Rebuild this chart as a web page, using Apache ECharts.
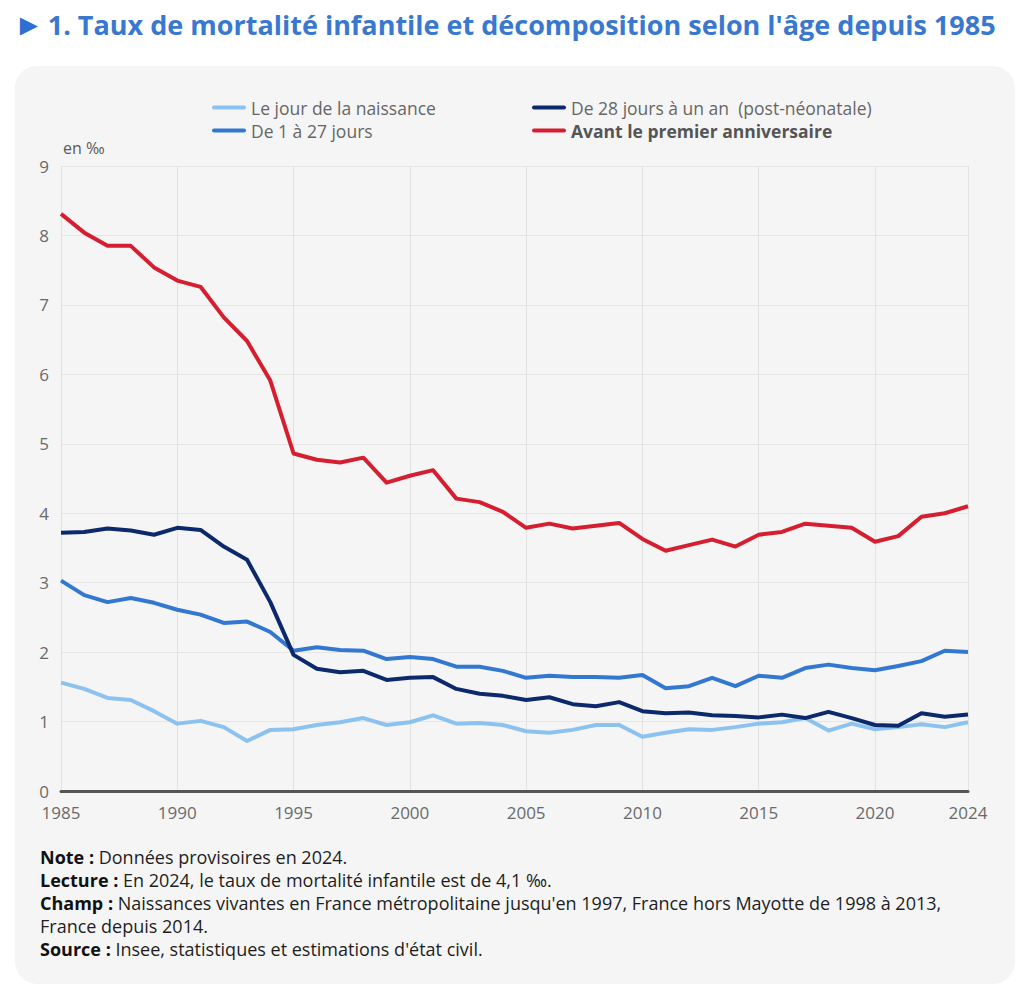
<!DOCTYPE html>
<html>
<head>
<meta charset="utf-8">
<script src="https://cdn.jsdelivr.net/npm/echarts@6/dist/echarts.min.js"></script>
<style>
  html, body { margin: 0; padding: 0; background: #fff; }
  #panel {
    position: absolute; left: 15px; top: 66px; width: 1000px; height: 918px;
    background: #f5f5f5; border-radius: 22px;
  }
  #chart { position: absolute; left: 0; top: 0; width: 1024px; height: 994px; }
</style>
</head>
<body>
<div id="panel"></div>
<div id="chart"></div>
<script>
const years = []
for (let y = 1985; y <= 2024; y++) years.push(String(y))

const jourNaissance = [
  1.56, 1.47, 1.34, 1.31, 1.15, 0.97, 1.01, 0.92, 0.72, 0.88,
  0.89, 0.95, 0.99, 1.05, 0.95, 0.99, 1.09, 0.97, 0.98, 0.95,
  0.86, 0.84, 0.88, 0.95, 0.95, 0.78, 0.84, 0.89, 0.88, 0.92,
  0.97, 0.99, 1.05, 0.87, 0.97, 0.89, 0.92, 0.96, 0.92, 0.99,
]
const de1a27 = [
  3.03, 2.82, 2.72, 2.78, 2.71, 2.61, 2.54, 2.42, 2.44, 2.29,
  2.02, 2.07, 2.03, 2.02, 1.9, 1.93, 1.9, 1.79, 1.79, 1.73,
  1.63, 1.66, 1.64, 1.64, 1.63, 1.67, 1.48, 1.51, 1.63, 1.51,
  1.66, 1.63, 1.77, 1.82, 1.77, 1.74, 1.8, 1.87, 2.02, 2.0,
]
const postNeonatale = [
  3.72, 3.73, 3.78, 3.75, 3.69, 3.79, 3.76, 3.52, 3.33, 2.72,
  1.96, 1.76, 1.71, 1.73, 1.6, 1.63, 1.64, 1.47, 1.4, 1.37,
  1.31, 1.35, 1.25, 1.22, 1.28, 1.15, 1.12, 1.13, 1.09, 1.08,
  1.06, 1.1, 1.05, 1.14, 1.05, 0.95, 0.94, 1.12, 1.07, 1.1,
]
const avantAnniversaire = [
  8.31, 8.04, 7.85, 7.85, 7.54, 7.35, 7.26, 6.82, 6.48, 5.91,
  4.86, 4.77, 4.73, 4.8, 4.44, 4.54, 4.62, 4.21, 4.16, 4.02,
  3.79, 3.85, 3.78, 3.82, 3.86, 3.63, 3.46, 3.54, 3.62, 3.52,
  3.69, 3.73, 3.85, 3.82, 3.79, 3.59, 3.67, 3.95, 4.0, 4.1,
]

const names = [
  'Le jour de la naissance',
  'De 1 à 27 jours',
  'De 28 jours à un an  (post-néonatale)',
  'Avant le premier anniversaire',
]
const colors = ['#8cc2ef', '#3378d0', '#0c2a6b', '#d51f30']
const seriesData = [jourNaissance, de1a27, postNeonatale, avantAnniversaire]

const font = 'Open Sans, sans-serif'
const lineIcon = 'path://M2,0 L32,0 A2,2 0 0 1 32,4 L2,4 A2,2 0 0 1 2,0 Z'
const showTick = (idx) => idx % 5 === 0 || idx === years.length - 1

const legendBase = {
  orient: 'vertical',
  top: 93,
  icon: lineIcon,
  itemWidth: 34,
  itemHeight: 5,
  itemGap: 4,
  textStyle: {
    fontFamily: font,
    fontSize: 17.5,
    lineHeight: 19,
    color: '#666',
    rich: { b: { fontFamily: font, fontSize: 17.5, fontWeight: 'bold', color: '#555' } },
  },
  formatter: (n) => (n === names[3] ? '{b|' + n + '}' : n),
}

const chart = echarts.init(document.getElementById('chart'), null, { renderer: 'svg' })
chart.setOption({
  backgroundColor: 'transparent',
  animation: false,
  textStyle: { fontFamily: font },
  legend: [
    { ...legendBase, left: 207, data: [names[0], names[1]] },
    { ...legendBase, left: 527, data: [names[2], names[3]] },
  ],
  grid: { left: 61, right: 56, top: 166, bottom: 203 },
  xAxis: {
    type: 'category',
    data: years,
    boundaryGap: false,
    axisTick: { show: false },
    axisLine: { lineStyle: { color: '#555', width: 3 } },
    axisLabel: {
      interval: showTick,
      color: '#6a6a6a',
      fontSize: 17,
      fontFamily: font,
      margin: 13,
    },
    splitLine: {
      show: true,
      interval: showTick,
      lineStyle: { color: '#e2e2e2', width: 1 },
    },
  },
  yAxis: {
    type: 'value',
    min: 0,
    max: 9,
    interval: 1,
    name: 'en ‰',
    nameGap: 10,
    nameTextStyle: { color: '#5a5a5a', fontSize: 16, fontFamily: font, align: 'left', padding: [0, 0, 0, 2] },
    axisLine: { show: false },
    axisTick: { show: false },
    axisLabel: { color: '#6a6a6a', fontSize: 17, fontFamily: font, margin: 12 },
    splitLine: { lineStyle: { color: '#e6e6e6', width: 1 } },
  },
  series: names.map((name, i) => ({
    name,
    type: 'line',
    data: seriesData[i],
    symbol: 'none',
    color: colors[i],
    lineStyle: { width: 4, color: colors[i], join: 'round' },
    z: 2 + i,
  })),
  graphic: [
    {
      type: 'text',
      left: 14,
      top: 9,
      style: {
        text: '{t|►}1. Taux de mortalité infantile et décomposition selon l\'âge depuis 1985',
        fontFamily: font,
        fontSize: 27,
        fontWeight: 'bold',
        fill: '#3a78cf',
        rich: { t: { fontSize: 30, fill: '#2d6fd2', padding: [0, 4, 0, 0] } },
      },
    },
    {
      type: 'text',
      left: 40,
      top: 845,
      style: {
        text: [
          '{b|Note :} Données provisoires en 2024.',
          '{b|Lecture :} En 2024, le taux de mortalité infantile est de 4,1 ‰.',
          '{b|Champ :} Naissances vivantes en France métropolitaine jusqu\'en 1997, France hors Mayotte de 1998 à 2013,',
          'France depuis 2014.',
          '{b|Source :} Insee, statistiques et estimations d\'état civil.',
        ].join('\n'),
        fontFamily: font,
        fontSize: 18,
        lineHeight: 23,
        fill: '#1e1e1e',
        rich: {
          b: { fontFamily: font, fontSize: 18, fontWeight: 'bold', fill: '#111', lineHeight: 23 },
        },
      },
    },
  ],
})
</script>
</body>
</html>
